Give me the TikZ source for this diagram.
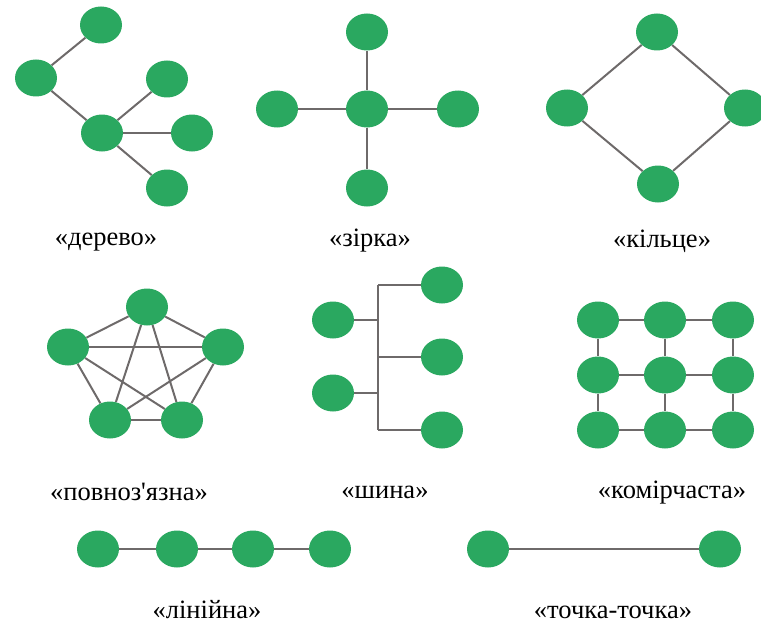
\documentclass[tikz,border=0pt]{standalone}
\usepackage{fontspec}
\setmainfont{Liberation Serif}
\usetikzlibrary{backgrounds,shapes.geometric}
\definecolor{nodegreen}{HTML}{2AA860}
\definecolor{linkgray}{HTML}{6E6A6A}
\tikzset{
  host/.style={ellipse, fill=nodegreen, minimum width=42pt, minimum height=37pt, inner sep=0pt},
  link/.style={draw=linkgray, line width=2pt},
  caption/.style={font=\fontsize{26.5}{30}\selectfont, inner sep=0pt}
}
\begin{document}
\begin{tikzpicture}[x=1pt, y=-1pt]
\useasboundingbox (0,0) rectangle (761,626);

% tree
\node[host] (t1) at (101,25) {};
\node[host] (t2) at (36,78) {};
\node[host] (t3) at (167,79) {};
\node[host] (t4) at (102,133) {};
\node[host] (t5) at (192,133) {};
\node[host] (t6) at (167,188) {};
\node[caption] (ct) at (106,242) {«дерево»};

% star
\node[host] (s0) at (367,109) {};
\node[host] (s1) at (367,32) {};
\node[host] (s2) at (277,109) {};
\node[host] (s3) at (458,109) {};
\node[host] (s4) at (367,188) {};
\node[caption] (cs) at (370,241) {«зірка»};

% ring
\node[host] (r1) at (657,32) {};
\node[host] (r2) at (567,108) {};
\node[host] (r3) at (745,108) {};
\node[host] (r4) at (658,184) {};
\node[caption] (cr) at (662,241) {«кільце»};

% full mesh
\node[host] (f1) at (147,307) {};
\node[host] (f2) at (68,347) {};
\node[host] (f3) at (223,347) {};
\node[host] (f4) at (110,420) {};
\node[host] (f5) at (182,420) {};
\node[caption] (cf) at (129,492) {«повноз\textquotesingle язна»};

% bus
\node[host] (b1) at (333,320) {};
\node[host] (b2) at (333,393) {};
\node[host] (b3) at (442,285) {};
\node[host] (b4) at (442,357) {};
\node[host] (b5) at (442,430) {};
\coordinate (bustop) at (378,285);
\coordinate (busbot) at (378,430);
\node[caption] (cb) at (385,492) {«шина»};

% grid
\foreach \c/\x in {1/598,2/665,3/733}
  \foreach \r/\y in {1/320,2/375,3/430}
    \node[host] (g\r\c) at (\x,\y) {};
\node[caption] (cg) at (672,493) {«комірчаста»};

% line
\node[host] (l1) at (98,549) {};
\node[host] (l2) at (177,549) {};
\node[host] (l3) at (253,549) {};
\node[host] (l4) at (330,549) {};
\node[caption] (cl) at (207,610) {«лінійна»};

% point-to-point
\node[host] (p1) at (488,549) {};
\node[host] (p2) at (720,549) {};
\node[caption] (cp) at (613,612) {«точка-точка»};

\begin{scope}[on background layer]
  \draw[link] (t1) -- (t2) -- (t4);
  \draw[link] (t4) -- (t3);
  \draw[link] (t4) -- (t5);
  \draw[link] (t4) -- (t6);
  \foreach \n in {s1,s2,s3,s4} \draw[link] (s0) -- (\n);
  \draw[link] (r1) -- (r2) -- (r4) -- (r3) -- (r1);
  \foreach \a/\b in {f1/f2,f1/f3,f1/f4,f1/f5,f2/f3,f2/f4,f2/f5,f3/f4,f3/f5,f4/f5}
    \draw[link] (\a) -- (\b);
  \draw[link] (bustop) -- (busbot);
  \foreach \n in {b1,b2,b3,b4,b5} \draw[link] (\n) -- (\n -| bustop);
  \foreach \r in {1,2,3} \draw[link] (g\r1) -- (g\r2) -- (g\r3);
  \foreach \c in {1,2,3} \draw[link] (g1\c) -- (g2\c) -- (g3\c);
  \draw[link] (l1) -- (l2) -- (l3) -- (l4);
  \draw[link] (p1) -- (p2);
\end{scope}
\end{tikzpicture}
\end{document}
